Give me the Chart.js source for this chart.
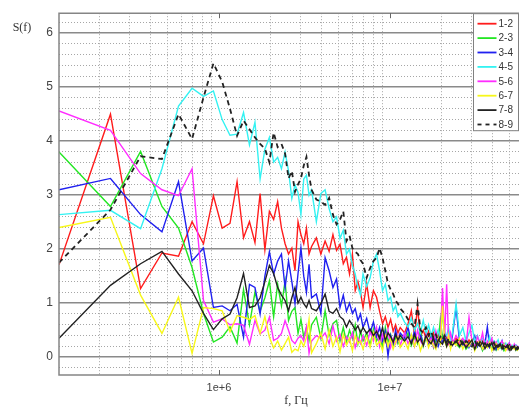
<!DOCTYPE html>
<html lang="ru">
<head>
  <meta charset="UTF-8" />
  <title>S(f)</title>
  <script src="https://cdn.jsdelivr.net/npm/chart.js"></script>
  <style>
    body {
      margin: 0;
      background: #fff;
      overflow: hidden;
    }
    canvas {
      display: block;
    }
  </style>
</head>
<body>
  <canvas id="spectrum" width="519" height="407"></canvas>

  <script>
    // harmonic numbers of the analysed frequencies, f = n * stepHz
    const stepHz = 1.16e5;
    const harmonic = [
      1, 2, 3, 4, 5, 6, 7, 8, 9, 10, 11, 12, 13, 14, 15, 16, 17, 18, 19, 20,
      21, 22, 23, 24, 25, 26, 27, 28, 29, 30,
      32, 34, 36, 38, 40, 42, 44, 46, 48, 50, 52, 54, 56, 58, 60,
      63, 66, 69, 72, 75, 78, 81, 84, 87, 90, 93, 96, 99,
      105, 110, 115, 120, 125, 130, 135, 140, 145, 150, 155, 160, 165, 170, 175, 180, 185, 190, 195, 200,
      210, 220, 230, 240, 250, 260, 270, 280, 290, 300, 310, 320, 330, 340, 350,
      360, 370, 380, 390, 400, 410, 420, 430, 440, 450, 460, 470, 480, 490, 500
    ];

    const seriesNames = ['1-2', '2-3', '3-4', '4-5', '5-6', '6-7', '7-8', '8-9'];
    const seriesColors = ['#ff1c1c', '#22e622', '#2020f0', '#33f2f2', '#ff2cff', '#f7f71a', '#222222', '#222222'];

    const s12 = [
      1.71, 4.50, 1.27, 1.93, 1.87, 2.51, 2.10, 2.99, 2.39, 2.48, 3.25, 2.21, 2.51, 2.12, 3.03, 1.99, 2.70, 2.55, 2.88, 2.39,
      2.10, 1.91, 2.02, 1.60, 2.51, 2.27, 2.10, 2.39, 1.91, 2.05,
      2.21, 1.91, 2.15, 1.96, 2.27, 1.98, 2.09, 1.73, 1.85, 1.54, 1.91, 1.23, 1.40, 1.20, 0.92,
      1.36, 0.92, 1.23, 1.11, 0.85, 0.62, 0.75, 0.55, 0.70, 0.48, 0.60, 0.45, 0.55,
      0.45, 0.62, 0.86, 0.40, 0.92, 0.38, 0.50, 0.35, 0.48, 0.30, 0.45, 0.32, 0.42, 0.28, 0.40, 0.30, 0.38, 0.25, 0.35, 0.28,
      0.35, 0.22, 0.30, 0.20, 0.32, 0.24, 0.18, 0.28, 0.22, 0.30, 0.20, 0.26, 0.18, 0.24, 0.20,
      0.27, 0.16, 0.22, 0.19, 0.25, 0.17, 0.21, 0.15, 0.22, 0.18, 0.20, 0.14, 0.19, 0.17, 0.20
    ];
    const s23 = [
      3.80, 2.79, 3.81, 2.79, 2.39, 1.66, 0.81, 0.28, 0.37, 0.56, 0.26, 1.25, 0.60, 1.20, 0.85, 1.10, 1.41, 0.75, 1.35, 0.95,
      1.41, 0.68, 0.85, 0.92, 0.44, 0.70, 0.37, 0.55, 0.31, 0.60,
      0.74, 0.35, 0.86, 0.40, 0.62, 0.68, 0.30, 0.55, 0.28, 0.50, 0.35, 0.60, 0.25, 0.48, 0.30,
      0.45, 0.22, 0.52, 0.30, 0.40, 0.18, 0.55, 0.28, 0.42, 0.20, 0.38, 0.25, 0.35,
      0.30, 0.45, 0.22, 0.38, 0.25, 0.50, 0.20, 0.35, 0.28, 0.40, 0.18, 0.32, 0.26, 0.70, 0.35, 0.30, 0.22, 0.35, 0.20, 0.30,
      0.25, 0.18, 0.30, 0.15, 0.22, 0.28, 0.14, 0.20, 0.25, 0.12, 0.22, 0.18, 0.26, 0.15, 0.20,
      0.13, 0.22, 0.17, 0.20, 0.12, 0.18, 0.22, 0.14, 0.19, 0.16, 0.20, 0.13, 0.18, 0.15, 0.17
    ];
    const s34 = [
      3.10, 3.31, 2.64, 2.32, 3.25, 1.78, 2.02, 0.92, 0.95, 0.86, 0.98, 0.37, 1.35, 1.29, 0.80, 1.50, 1.95, 1.54, 1.78, 1.91,
      1.29, 1.78, 1.40, 0.99, 1.55, 2.02, 1.50, 1.20, 1.72, 1.10,
      1.17, 0.81, 1.84, 1.60, 1.29, 1.45, 0.92, 1.15, 0.85, 1.00, 0.81, 0.90, 0.68, 0.80, 0.55,
      0.72, 0.45, 0.65, 0.38, 0.55, 0.30, 0.48, 0.02, 0.40, 0.25, 0.50, 0.30, 0.45,
      0.35, 0.55, 0.28, 0.48, 0.30, 0.42, 0.25, 0.40, 0.22, 0.38, 0.30, 0.35, 0.20, 0.32, 0.28, 0.45, 0.25, 0.35, 0.22, 0.40,
      0.92, 0.30, 0.22, 0.35, 0.18, 0.28, 0.40, 0.20, 0.30, 0.15, 0.25, 0.56, 0.18, 0.22, 0.28,
      0.15, 0.24, 0.20, 0.30, 0.16, 0.22, 0.18, 0.26, 0.14, 0.20, 0.17, 0.22, 0.15, 0.19, 0.16
    ];
    const s45 = [
      2.64, 2.72, 2.38, 3.49, 4.65, 4.98, 4.83, 4.93, 4.40, 4.11, 4.13, 4.53, 3.93, 4.35, 3.30, 3.85, 4.07, 3.61, 3.70, 3.49,
      3.80, 3.45, 2.94, 3.19, 3.05, 2.64, 3.30, 3.37, 3.00, 3.10,
      2.51, 3.03, 3.10, 2.75, 2.51, 2.60, 2.20, 2.35, 1.91, 2.00, 1.70, 1.54, 1.29, 1.15, 1.54,
      1.31, 1.47, 1.78, 1.91, 1.60, 1.23, 1.35, 1.05, 1.11, 0.86, 0.95, 0.75, 0.81,
      0.65, 0.56, 0.72, 0.50, 0.62, 0.45, 0.68, 0.42, 0.60, 0.40, 0.55, 0.38, 0.50, 0.35, 0.80, 0.45, 0.40, 0.55, 0.30, 0.45,
      0.99, 0.40, 0.55, 0.30, 0.45, 0.59, 0.28, 0.40, 0.25, 0.35, 0.30, 0.22, 0.38, 0.20, 0.30,
      0.25, 0.32, 0.18, 0.28, 0.22, 0.26, 0.17, 0.24, 0.20, 0.22, 0.16, 0.21, 0.18, 0.20, 0.15
    ];
    const s56 = [
      4.56, 4.20, 3.40, 3.10, 2.99, 3.49, 1.05, 0.65, 0.71, 0.60, 0.62, 0.59, 0.24, 0.68, 0.43, 0.50, 0.74, 0.31, 0.35, 0.44,
      0.68, 0.50, 0.31, 0.25, 0.35, 0.40, 0.30, 0.56, 0.07, 0.30,
      0.40, 0.35, 0.45, 0.25, 0.58, 0.30, 0.42, 0.20, 0.38, 0.28, 0.45, 0.18, 0.35, 0.25, 0.40,
      0.22, 0.48, 0.30, 0.55, 0.20, 0.42, 0.28, 0.50, 0.18, 0.35, 0.25, 0.40, 0.22,
      0.45, 0.25, 0.38, 0.20, 0.50, 0.30, 0.22, 0.42, 0.28, 0.35, 0.20, 0.48, 0.30, 0.40, 1.28, 0.35, 1.35, 0.30, 0.45, 0.25,
      0.40, 0.28, 0.35, 0.22, 0.74, 0.30, 0.20, 0.38, 0.25, 0.45, 0.18, 0.30, 0.22, 0.35, 0.20,
      0.28, 0.16, 0.25, 0.30, 0.18, 0.22, 0.15, 0.26, 0.20, 0.17, 0.24, 0.15, 0.20, 0.18, 0.16
    ];
    const s67 = [
      2.40, 2.59, 1.15, 0.44, 1.11, 0.07, 0.92, 0.90, 0.86, 0.47, 0.77, 0.74, 0.70, 0.77, 0.44, 0.75, 0.37, 0.17, 0.30, 0.13,
      0.25, 0.37, 0.09, 0.15, 0.12, 0.30, 0.20, 0.37, 0.70, 0.08,
      0.25, 0.45, 0.15, 0.50, 0.20, 0.38, 0.10, 0.42, 0.22, 0.35, 0.12, 0.40, 0.25, 0.30, 0.15,
      0.38, 0.18, 0.45, 0.22, 0.30, 0.12, 0.40, 0.20, 0.35, 0.15, 0.28, 0.38, 0.18,
      0.30, 0.15, 0.42, 0.20, 0.35, 0.12, 0.28, 0.38, 0.18, 0.30, 0.22, 0.15, 0.35, 0.25, 0.95, 0.30, 0.20, 0.40, 0.15, 0.28,
      0.22, 0.35, 0.15, 0.28, 0.20, 0.32, 0.12, 0.25, 0.30, 0.15, 0.22, 0.18, 0.28, 0.12, 0.20,
      0.25, 0.14, 0.20, 0.17, 0.23, 0.12, 0.18, 0.21, 0.14, 0.18, 0.15, 0.19, 0.13, 0.17, 0.15
    ];
    const s78 = [
      0.35, 1.33, 1.73, 1.96, 1.54, 1.23, 0.81, 0.51, 0.71, 0.80, 1.10, 1.55, 0.92, 0.95, 1.10, 1.40, 1.70, 1.55, 1.29, 1.15,
      1.05, 0.86, 1.10, 1.29, 1.00, 1.11, 0.99, 0.92, 1.05, 0.90,
      0.86, 0.99, 1.17, 0.85, 0.81, 0.90, 0.75, 0.70, 0.56, 0.68, 0.60, 0.50, 0.58, 0.45, 0.55,
      0.44, 0.52, 0.40, 0.48, 0.35, 0.55, 0.30, 0.45, 0.38, 0.28, 0.42, 0.32, 0.40,
      0.30, 0.38, 0.25, 0.42, 0.28, 0.35, 0.22, 0.40, 0.30, 0.25, 0.36, 0.20, 0.32, 0.28, 0.24, 0.35, 0.20, 0.30, 0.25, 0.22,
      0.30, 0.20, 0.28, 0.18, 0.25, 0.32, 0.15, 0.26, 0.20, 0.28, 0.16, 0.24, 0.20, 0.27, 0.14,
      0.22, 0.19, 0.25, 0.15, 0.21, 0.18, 0.23, 0.13, 0.20, 0.17, 0.21, 0.14, 0.19, 0.16, 0.18
    ];
    const s89 = [
      1.75, 2.73, 3.72, 3.67, 4.50, 4.04, 4.81, 5.44, 5.10, 4.60, 4.10, 4.38, 4.22, 4.07, 3.95, 3.86, 3.61, 4.16, 3.89, 3.95,
      3.77, 3.31, 3.45, 3.06, 3.20, 3.31, 3.55, 3.71, 3.37, 3.10,
      2.92, 2.88, 2.82, 2.95, 2.64, 2.46, 2.55, 2.70, 2.15, 2.25, 2.02, 1.95, 1.91, 1.80, 1.73,
      1.47, 1.65, 1.78, 1.84, 2.02, 1.84, 1.60, 1.36, 1.25, 1.17, 1.05, 0.99, 0.90,
      0.81, 0.70, 0.62, 0.55, 0.99, 0.50, 0.45, 0.55, 0.40, 0.48, 0.35, 0.42, 0.30, 0.38, 0.32, 0.40, 0.28, 0.35, 0.25, 0.32,
      0.28, 0.35, 0.22, 0.30, 0.25, 0.20, 0.32, 0.18, 0.28, 0.22, 0.26, 0.17, 0.24, 0.20, 0.27,
      0.16, 0.22, 0.19, 0.24, 0.15, 0.21, 0.18, 0.22, 0.14, 0.19, 0.17, 0.20, 0.15, 0.18, 0.16
    ];
    const seriesValues = [s12, s23, s34, s45, s56, s67, s78, s89];

    const yMajorTicks = [0, 1, 2, 3, 4, 5, 6];
    const xDecadeTicks = [1e6, 1e7];
    const xDecadeLabels = ['1e+6', '1e+7'];

    const fMin = 1.16e5;
    const fMax = 5.685e7;
    const yMin = -0.33;
    const yMax = 6.37;

    const datasets = seriesNames.map((name, i) => ({
      label: name,
      data: harmonic.map((n, k) => ({ x: n * stepHz, y: seriesValues[i][k] })),
      borderColor: seriesColors[i],
      borderWidth: i === 7 ? 1.8 : 1.4,
      borderDash: i === 7 ? [5, 4] : [],
      pointRadius: 0,
      tension: 0,
      order: seriesNames.length - i
    }));

    // frame, decade tick marks, legend box and axis captions
    const decorations = {
      id: 'decorations',
      afterDatasetsDraw(chart) {
        const { ctx, chartArea: a, scales } = chart;
        ctx.save();

        ctx.strokeStyle = '#858585';
        ctx.lineWidth = 1.5;
        ctx.setLineDash([]);
        ctx.beginPath();
        ctx.moveTo(a.right + 2, a.top);
        ctx.lineTo(a.left, a.top);
        ctx.lineTo(a.left, a.bottom);
        ctx.lineTo(a.right + 2, a.bottom);
        ctx.stroke();

        ctx.lineWidth = 1;
        ctx.strokeStyle = '#666';
        xDecadeTicks.forEach(v => {
          const px = Math.round(scales.x.getPixelForValue(v)) + 0.5;
          ctx.beginPath();
          ctx.moveTo(px, a.top);
          ctx.lineTo(px, a.top + 5);
          ctx.moveTo(px, a.bottom);
          ctx.lineTo(px, a.bottom - 5);
          ctx.stroke();
        });

        // legend
        const bx = 473.5, by = a.top + 0.5, bw = 45, bh = 117;
        ctx.fillStyle = '#fff';
        ctx.fillRect(bx, by, bw, bh);
        ctx.strokeStyle = '#808080';
        ctx.lineWidth = 1;
        ctx.strokeRect(bx, by, bw, bh);
        ctx.font = '10px "Liberation Sans", Arial, sans-serif';
        ctx.textBaseline = 'middle';
        ctx.textAlign = 'left';
        chart.data.datasets.forEach((ds, i) => {
          const ly = by + 10 + i * 14.4;
          ctx.strokeStyle = ds.borderColor;
          ctx.lineWidth = 1.8;
          ctx.setLineDash(ds.borderDash.length ? [4, 4] : []);
          ctx.beginPath();
          ctx.moveTo(bx + 4, ly);
          ctx.lineTo(bx + 23, ly);
          ctx.stroke();
          ctx.setLineDash([]);
          ctx.fillStyle = '#333';
          ctx.fillText(ds.label, bx + 25, ly + 0.5);
        });

        // axis captions
        ctx.fillStyle = '#333';
        ctx.font = '12px "Liberation Serif", "Times New Roman", serif';
        ctx.textAlign = 'center';
        ctx.fillText('S(f)', 22, 28);
        ctx.fillText('f, Гц', 296, 401);

        ctx.restore();
      }
    };

    const ctx = document.getElementById('spectrum').getContext('2d');

    new Chart(ctx, {
      type: 'line',
      data: { datasets },
      plugins: [decorations],
      options: {
        responsive: false,
        animation: false,
        layout: { padding: { top: 10, left: 0, right: 0, bottom: 0 } },
        plugins: {
          legend: { display: false },
          tooltip: { enabled: false }
        },
        scales: {
          x: {
            type: 'logarithmic',
            min: fMin,
            max: fMax,
            afterBuildTicks: scale => {
              const ticks = [];
              [1e5, 1e6, 1e7].forEach(d => {
                for (let m = 1; m <= 9; m++) {
                  const v = m * d;
                  if (v >= fMin && v <= fMax) ticks.push({ value: v });
                }
              });
              scale.ticks = ticks;
            },
            afterFit: scale => { scale.height = 32; },
            grid: {
              color: c => (xDecadeTicks.includes(c.tick && c.tick.value) ? 'rgba(0,0,0,0)' : '#a6a6a6'),
              lineWidth: 1,
              drawTicks: false
            },
            border: { display: false, dash: [1, 2] },
            ticks: {
              autoSkip: false,
              maxRotation: 0,
              padding: 6,
              color: '#444',
              font: { family: '"Liberation Sans", Arial, sans-serif', size: 11 },
              callback: value => {
                const k = xDecadeTicks.indexOf(value);
                return k >= 0 ? xDecadeLabels[k] : '';
              }
            }
          },
          yMinor: {
            type: 'linear',
            position: 'left',
            min: yMin,
            max: yMax,
            afterBuildTicks: scale => {
              const ticks = [];
              for (let k = -1; k <= 31; k++) {
                if (k % 5 !== 0) ticks.push({ value: k / 5 });
              }
              scale.ticks = ticks;
            },
            afterFit: scale => { scale.width = 0; },
            grid: { color: '#a6a6a6', lineWidth: 1, drawTicks: false },
            border: { display: false, dash: [1, 2] },
            ticks: { display: false }
          },
          y: {
            type: 'linear',
            position: 'left',
            min: yMin,
            max: yMax,
            afterBuildTicks: scale => {
              scale.ticks = yMajorTicks.map(v => ({ value: v }));
            },
            afterFit: scale => { scale.width = 59; },
            grid: { color: '#8a8a8a', lineWidth: 1.5, drawTicks: false },
            border: { display: false },
            ticks: {
              padding: 6,
              color: '#444',
              font: { family: '"Liberation Sans", Arial, sans-serif', size: 12 }
            }
          }
        }
      }
    });
  </script>
</body>
</html>
